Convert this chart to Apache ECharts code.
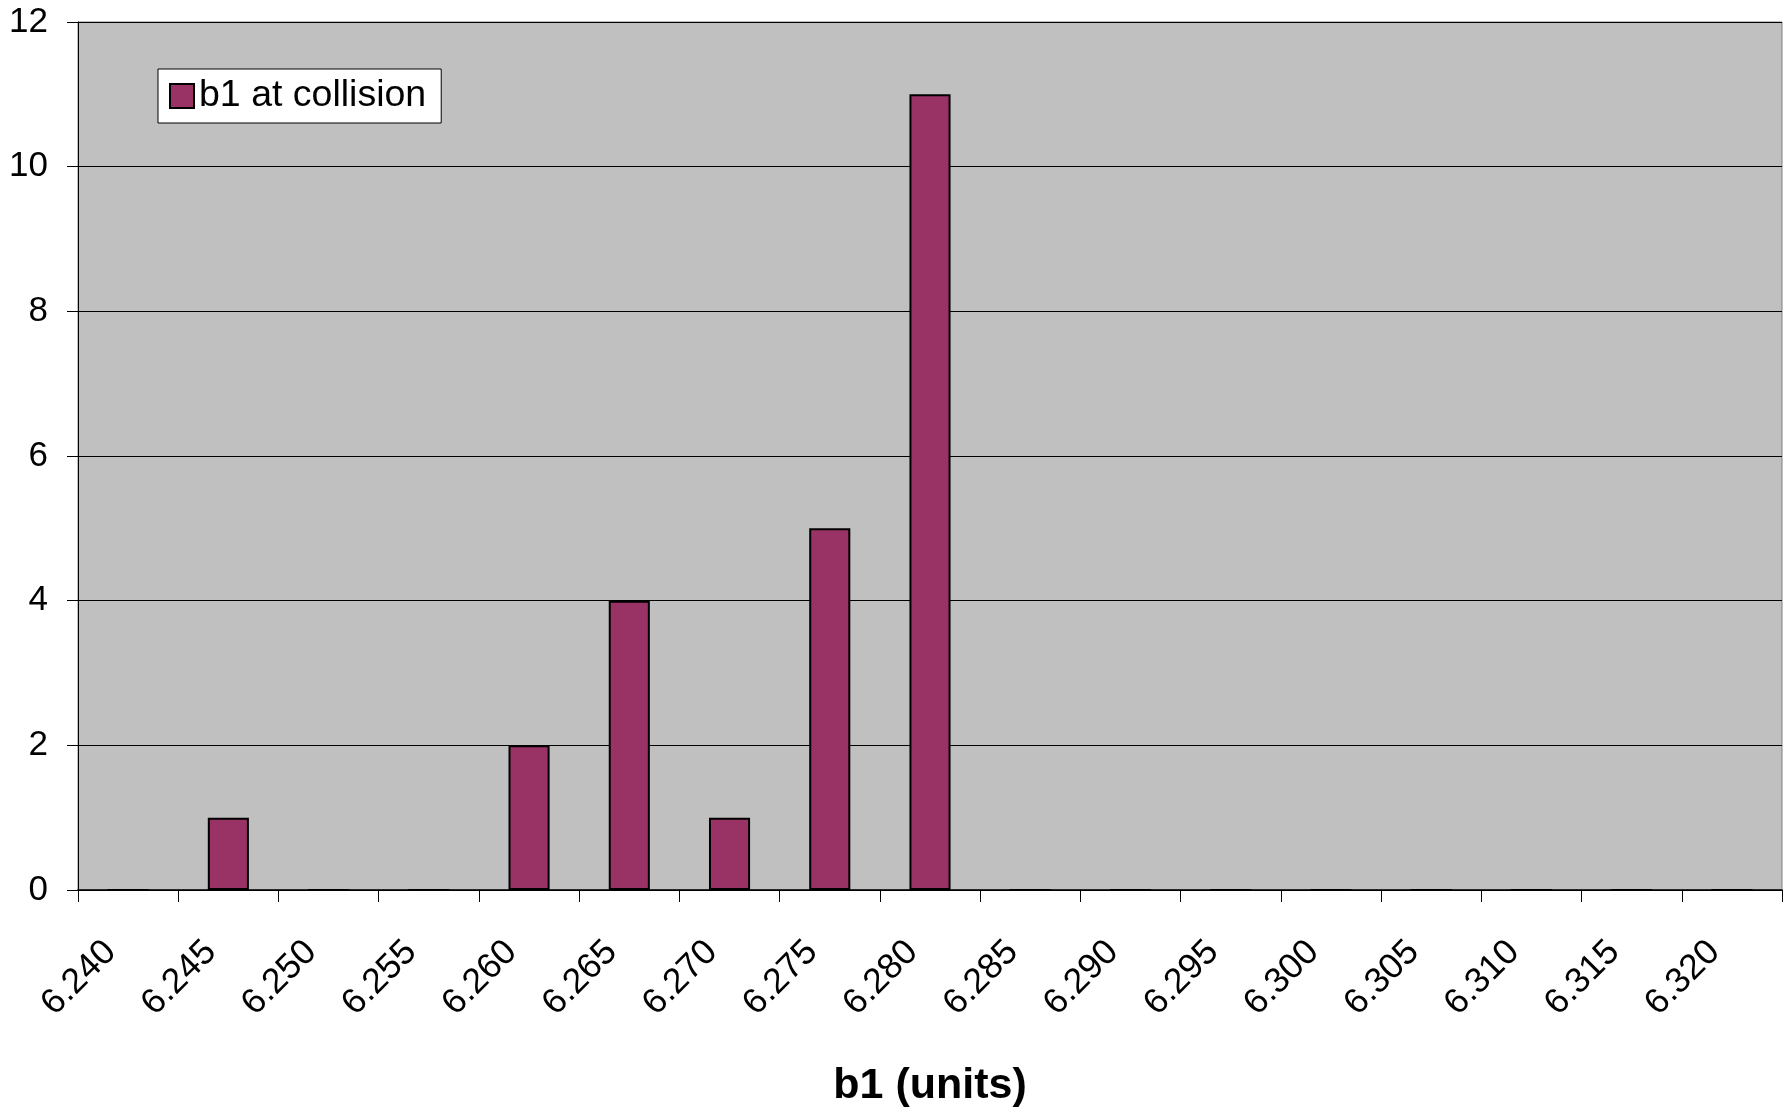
<!DOCTYPE html>
<html>
<head>
<meta charset="utf-8">
<script src="https://cdn.jsdelivr.net/npm/echarts@6/dist/echarts.min.js"></script>
<style>
html,body{margin:0;padding:0;background:#fff;}
#chart{width:1789px;height:1113px;}
</style>
</head>
<body>
<div id="chart"></div>
<script>
var categories = ['6.240','6.245','6.250','6.255','6.260','6.265','6.270','6.275','6.280','6.285','6.290','6.295','6.300','6.305','6.310','6.315','6.320'];
var counts = [0,1,0,0,2,4,1,5,11,0,0,0,0,0,0,0,0];
var seriesName = 'b1 at collision';
var xTitle = 'b1 (units)';
var yTicks = {min:0, max:12, interval:2};

var chart = echarts.init(document.getElementById('chart'), null, {renderer:'canvas'});
var font = 'Liberation Sans, Arial, sans-serif';
chart.setOption({
  animation:false,
  backgroundColor:'#ffffff',
  grid:{left:78, right:7, top:22, bottom:219, show:true, backgroundColor:'#c0c0c0', borderColor:'#808080', borderWidth:1},
  legend:{
    show:true, left:158, top:69, orient:'horizontal',
    backgroundColor:'#ffffff', borderColor:'#000000', borderWidth:1,
    padding:[8,15,8,11], itemWidth:24, itemHeight:24, itemGap:5,
    icon:'rect',
    textStyle:{fontFamily:font, fontSize:37.5, color:'#000', lineHeight:37},
    data:[seriesName]
  },
  xAxis:{
    type:'category', data:categories, boundaryGap:true,
    name:xTitle, nameLocation:'middle', nameGap:175,
    nameTextStyle:{fontFamily:font, fontSize:43, fontWeight:'bold', color:'#000'},
    axisLine:{show:true, lineStyle:{color:'#000', width:1.5}},
    axisTick:{show:true, length:12, alignWithLabel:false, interval:0, lineStyle:{color:'#000', width:1}},
    axisLabel:{interval:0, rotate:45, margin:39, padding:[0,25,0,0], fontFamily:font, fontSize:35.5, color:'#000'},
    splitLine:{show:false}
  },
  yAxis:{
    type:'value', min:yTicks.min, max:yTicks.max, interval:yTicks.interval,
    axisLine:{show:true, lineStyle:{color:'#000', width:1}},
    axisTick:{show:true, length:11, lineStyle:{color:'#000', width:1}},
    axisLabel:{margin:30, fontFamily:font, fontSize:35, color:'#000'},
    splitLine:{show:true, lineStyle:{color:'#000', width:1}}
  },
  series:[{
    name:seriesName, type:'bar', data:counts, barWidth:'41%',
    itemStyle:{color:'#993366', borderColor:'#000000', borderWidth:2}
  }]
});
</script>
</body>
</html>
